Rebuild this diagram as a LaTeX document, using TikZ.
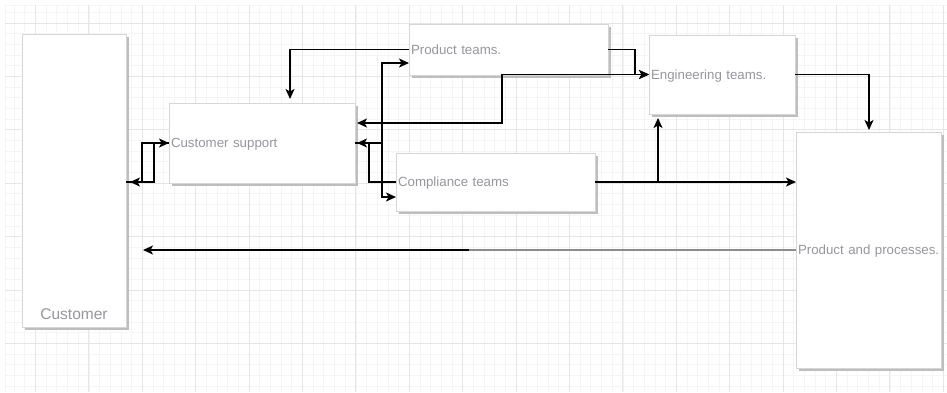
\documentclass[tikz,border=0pt]{standalone}
\usepackage{fontspec}
\setmainfont{Liberation Sans}
\usetikzlibrary{arrows.meta,shadows}
\definecolor{gridminor}{RGB}{245,245,245}
\definecolor{gridmajor}{RGB}{230,230,230}
\definecolor{boxline}{RGB}{214,214,214}
\definecolor{shadowc}{RGB}{190,190,190}
\definecolor{txt}{RGB}{150,150,158}
\definecolor{barc}{RGB}{140,140,140}
\tikzset{
  minorline/.style={draw=gridminor, line width=0.8pt},
  majorline/.style={draw=gridmajor, line width=0.9pt},
  box/.style={draw=boxline, line width=0.9pt, fill=white,
    drop shadow={shadow xshift=3pt, shadow yshift=-3pt, fill=shadowc, opacity=1},
    inner xsep=2pt, inner ysep=0pt, outer sep=0pt, align=left,
    text height=11.8pt, text depth=2.8pt,
    font=\fontsize{13.3}{15}\selectfont, text=txt},
  arr/.style={line width=1.3pt, -{Stealth[length=10pt,width=9pt,inset=2.5pt]}},
  biarr/.style={line width=1.3pt, {Stealth[length=10pt,width=9pt,inset=2.5pt]}-{Stealth[length=10pt,width=9pt,inset=2.5pt]}},
  graybar/.style={draw=barc, line width=2.6pt},
}
\begin{document}
\begin{tikzpicture}[x=1pt,y=-1pt]
\useasboundingbox (0,0) rectangle (947,392);
\fill[white] (0,0) rectangle (947,392);
% grid
\foreach \k in {0,...,87} {\draw[minorline] ({14.14+10.68*\k},5) -- ({14.14+10.68*\k},392);}
\foreach \k in {0,...,35} {\draw[minorline] (5,{12.32+10.68*\k}) -- (947,{12.32+10.68*\k});}
\draw[minorline] (5,5) -- (947,5);
\draw[minorline] (5,5) -- (5,392);
\foreach \j in {0,...,17} {\draw[majorline] ({35.5+53.4*\j},5) -- ({35.5+53.4*\j},392);}
\foreach \j in {0,...,6} {\draw[majorline] (5,{23+53.4*\j}) -- (947,{23+53.4*\j});}

% boxes
\node[box, text width=100pt, minimum height=293pt] (cust) at (74,180.5) {};
\node[anchor=base, font=\fontsize{15.5}{18}\selectfont, text=txt] (custlbl) at ([yshift=8pt]cust.south) {Customer};
\node[box, text width=182pt, minimum height=80pt] (cs) at (262,143) {\mbox{Customer support}};
\node[box, text width=195pt, minimum height=51pt] (pt) at (508.5,49.5) {\mbox{Product teams.}};
\node[box, text width=142pt, minimum height=79pt] (et) at (722,74.5) {\mbox{Engineering teams.}};
\node[box, text width=195pt, minimum height=58pt] (ct) at (495.5,182) {\mbox{Compliance teams}};
\node[box, text width=141pt, minimum height=236pt] (pp) at (868.5,250) {\mbox{Product and processes.}};

% connectors
\draw[arr] (cust.east |- 142,182) -- (142,182) -- (142,143) -- (cs.west);
\draw[arr, shorten >=4pt] (cs.west) -- (154,143) -- (154,182) -- (cust.east |- 154,182);
\draw[arr, shorten >=4pt] (pt.west) -- (290,49.5) -- (cs.north -| 290,0);
\draw[arr] (cs.east) -- (382,143) -- (382,63) -- (pt.west |- 382,63);
\draw[arr] (cs.east) -- (382,143) -- (382,197) -- (ct.west |- 382,197);
\draw[arr, shorten >=2pt] (ct.west) -- (369,182) -- (369,143) -- (cs.east);
\draw[biarr, shorten <=2pt] (cs.east |- 502,123) -- (502,123) -- (502,74.5) -- (et.west);
\draw[arr] (pt.east) -- (635,49.5) -- (635,74.5) -- (et.west);
\draw[arr, shorten >=2pt] (et.east) -- (869,74.5) -- (pp.north -| 869,0);
\draw[arr] (ct.east) -- (pp.west |- ct.east);
\draw[arr, shorten >=4pt] (658,182) -- (et.south -| 658,0);
\draw[arr, shorten >=17pt] (pp.west) -- (cust.east |- pp.west);
\draw[graybar] (469,250) -- (pp.west);
\end{tikzpicture}
\end{document}
